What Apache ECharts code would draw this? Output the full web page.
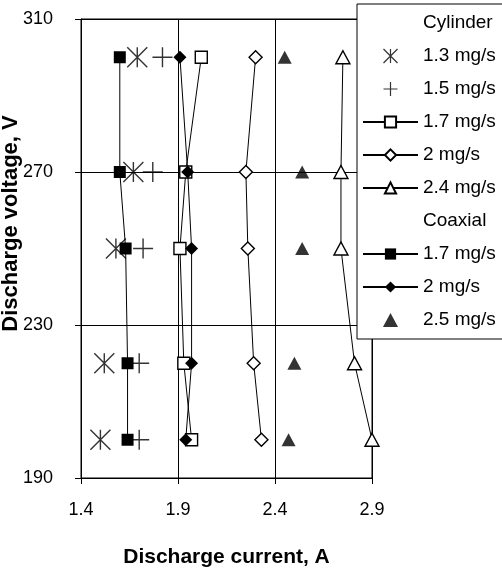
<!DOCTYPE html>
<html>
<head>
<meta charset="utf-8">
<script src="https://cdn.jsdelivr.net/npm/echarts@6/dist/echarts.min.js"></script>
<style>
html,body{margin:0;padding:0;background:#fff;}
#chart{width:502px;height:573px;}
</style>
</head>
<body>
<div id="chart"></div>
<script>
// Data
var voltages = [300, 270, 250, 220, 200];
var cyl13 = [1.69, 1.67, 1.58, 1.52, 1.50];
var cyl15 = [1.82, 1.77, 1.72, 1.70, 1.70];
var cyl17 = [2.02, 1.94, 1.91, 1.93, 1.97];
var cyl20 = [2.30, 2.25, 2.26, 2.29, 2.33];
var cyl24 = [2.75, 2.74, 2.74, 2.81, 2.90];
var coax17 = [1.60, 1.60, 1.63, 1.64, 1.64];
var coax20 = [1.91, 1.95, 1.97, 1.97, 1.94];
var coax25 = [2.45, 2.54, 2.54, 2.50, 2.47];
var xTicks = [1.4, 1.9, 2.4, 2.9];
var yTicks = [190, 230, 270, 310];

function pts(xs) { return xs.map(function (x, i) { return [x, voltages[i]]; }); }

var FONT = 'Liberation Sans, Arial, sans-serif';
var asterisk = 'path://M0,0L20,20M20,0L0,20M10,0L10,20';
var plus = 'path://M0,10L20,10M10,0L10,20';
var tri = 'path://M7,0L14,13L0,13Z';

var strokeOnly = {color: 'rgba(0,0,0,0)', borderColor: '#000', borderWidth: 1.4};
var openStyle = {color: '#fff', borderColor: '#000', borderWidth: 1.4};
var filledStyle = {color: '#000', borderColor: '#000', borderWidth: 0};
var lineSt = {color: '#000', width: 1};

var series = [
  {name: 'h|Cylinder', type: 'scatter', data: []},
  {name: 'a|1.3 mg/s', type: 'scatter', data: pts(cyl13), symbol: asterisk, symbolSize: 20, itemStyle: strokeOnly},
  {name: 'b|1.5 mg/s', type: 'scatter', data: pts(cyl15), symbol: plus, symbolSize: 20, itemStyle: strokeOnly},
  {name: 'c|1.7 mg/s', type: 'line', data: pts(cyl17), symbol: 'rect', symbolSize: 12, itemStyle: openStyle, lineStyle: lineSt},
  {name: 'd|2 mg/s', type: 'line', data: pts(cyl20), symbol: 'diamond', symbolSize: 13, itemStyle: openStyle, lineStyle: lineSt},
  {name: 'e|2.4 mg/s', type: 'line', data: pts(cyl24), symbol: tri, symbolSize: [14, 13], itemStyle: openStyle, lineStyle: lineSt},
  {name: 'i|Coaxial', type: 'scatter', data: []},
  {name: 'f|1.7 mg/s', type: 'line', data: pts(coax17), symbol: 'rect', symbolSize: 12, itemStyle: filledStyle, lineStyle: lineSt},
  {name: 'g|2 mg/s', type: 'line', data: pts(coax20), symbol: 'diamond', symbolSize: 13, itemStyle: filledStyle, lineStyle: lineSt},
  {name: 'k|2.5 mg/s', type: 'scatter', data: pts(coax25), symbol: tri, symbolSize: [14, 13], itemStyle: filledStyle}
];
series.forEach(function (s) { s.animation = false; s.emphasis = {disabled: true}; });

var legendData = series.map(function (s) {
  if (s.data.length === 0) {
    return {name: s.name, icon: 'rect', itemStyle: {color: 'rgba(0,0,0,0)', borderWidth: 0}};
  }
  if (s.name.charAt(0) === 'a' || s.name.charAt(0) === 'b') {
    return {name: s.name, itemStyle: {borderWidth: 1.2}};
  }
  return {name: s.name};
});

var chart = echarts.init(document.getElementById('chart'), null, {renderer: 'canvas'});
chart.setOption({
  animation: false,
  backgroundColor: '#fff',
  textStyle: {fontFamily: FONT},
  grid: {left: 81, top: 19, width: 291, height: 459, containLabel: false, outerBoundsMode: 'none',
    show: true, borderColor: '#000', borderWidth: 1, backgroundColor: 'rgba(0,0,0,0)'},
  xAxis: {
    type: 'value', min: xTicks[0], max: xTicks[xTicks.length - 1], interval: 0.5,
    name: 'Discharge current, A', nameLocation: 'middle', nameGap: 69, nameMoveOverlap: false,
    nameTextStyle: {fontFamily: FONT, fontSize: 21, fontWeight: 'bold', color: '#000'},
    axisLine: {show: true, lineStyle: {color: '#000', width: 1}},
    axisTick: {show: true, inside: false, length: 6, lineStyle: {color: '#000'}},
    axisLabel: {fontFamily: FONT, fontSize: 18, color: '#000', margin: 23, formatter: function (v) { return v.toFixed(1); }},
    splitLine: {show: true, lineStyle: {color: '#000', width: 1}}
  },
  yAxis: {
    type: 'value', min: yTicks[0], max: yTicks[yTicks.length - 1], interval: 40,
    name: 'Discharge voltage, V', nameLocation: 'middle', nameGap: 59, nameMoveOverlap: false,
    nameTextStyle: {fontFamily: FONT, fontSize: 22, fontWeight: 'bold', color: '#000', padding: [0, 0, 0, 50]},
    axisLine: {show: true, lineStyle: {color: '#000', width: 1}},
    axisTick: {show: true, inside: false, length: 6, lineStyle: {color: '#000'}},
    axisLabel: {fontFamily: FONT, fontSize: 18, color: '#000', margin: 28},
    splitLine: {show: true, lineStyle: {color: '#000', width: 1}}
  },
  legend: {
    orient: 'vertical', left: 357, top: 4,
    backgroundColor: '#fff', borderColor: '#000', borderWidth: 1,
    padding: [9, 60, 9, 5],
    itemWidth: 55, itemHeight: 14, itemGap: 13, selectedMode: false,
    textStyle: {fontFamily: FONT, fontSize: 19, color: '#000', lineHeight: 20},
    formatter: function (n) { return n.split('|')[1]; },
    data: legendData
  },
  series: series
});
</script>
</body>
</html>
